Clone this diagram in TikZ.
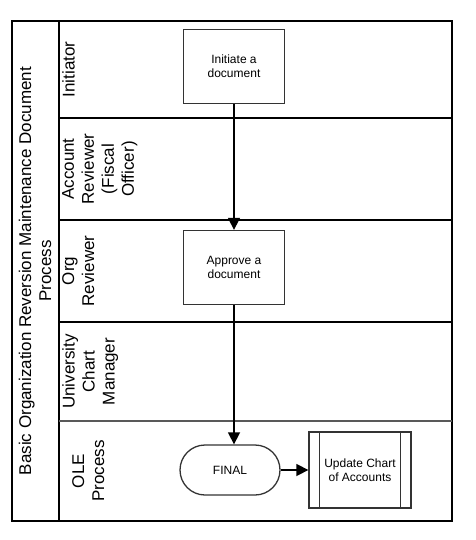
\documentclass[tikz,border=0pt]{standalone}
\usepackage{fontspec}
\setmainfont{Liberation Sans}
\usetikzlibrary{arrows.meta}

\begin{document}
\begin{tikzpicture}[x=1pt,y=-1pt,
	lane/.style={rotate=90,anchor=north,align=center,inner sep=2pt,font=\fontsize{17}{20}\selectfont},
	task/.style={draw=black!80,line width=1.3pt,minimum width=101pt,minimum height=74pt,align=center,font=\fontsize{12}{14}\selectfont},
	ending/.style={task,minimum width=100pt,minimum height=50pt,rounded corners=25pt},
	flow/.style={line width=1.5pt,-{Triangle[length=12pt,width=12pt]}}]
	\useasboundingbox (0,0) rectangle (475,540);
	% pool and lanes
	\draw[line width=2pt] (12,21) rectangle (452,521);
	\draw[line width=2pt] (59,21) -- (59,521);
	\draw[line width=2pt] (59,118) -- (452,118);
	\draw[line width=2pt] (59,220) -- (452,220);
	\draw[line width=2pt] (59,322) -- (452,322);
	\draw[line width=2.5pt,black!65] (59,421) -- (452,421);
	\node[rotate=90,align=center,font=\fontsize{17}{20}\selectfont] (pool) at (35,271) {Basic Organization Reversion Maintenance Document\\Process};
	\node[lane] (initiator) at (60,69.5) {Initiator};
	\node[lane] (acct) at (60,169) {Account\\Reviewer\\(Fiscal\\Officer)};
	\node[lane] (org) at (60,271) {Org\\Reviewer};
	\node[lane] (ucm) at (60,371.5) {University\\Chart\\Manager};
	\node[lane] (ole) at (70,471) {OLE\\Process};
	% tasks
	\node[task] (initiate) at (234,66.5) {Initiate a\\document};
	\node[task] (approve) at (234,267.5) {Approve a\\document};
	\node[ending] (final) at (230,470) {FINAL};
	\node[task,minimum width=102pt,minimum height=76pt] (update) at (360,470) {Update Chart\\of Accounts};
	\draw[line width=1.3pt,black!80] ([xshift=11pt]update.north west) -- ([xshift=11pt]update.south west);
	\draw[line width=1.3pt,black!80] ([xshift=-11pt]update.north east) -- ([xshift=-11pt]update.south east);
	% flows
	\draw[flow] (initiate) -- (approve);
	\draw[flow] (approve.south) -- (approve.south |- final.north);
	\draw[flow] (final) -- (update);
\end{tikzpicture}
\end{document}
